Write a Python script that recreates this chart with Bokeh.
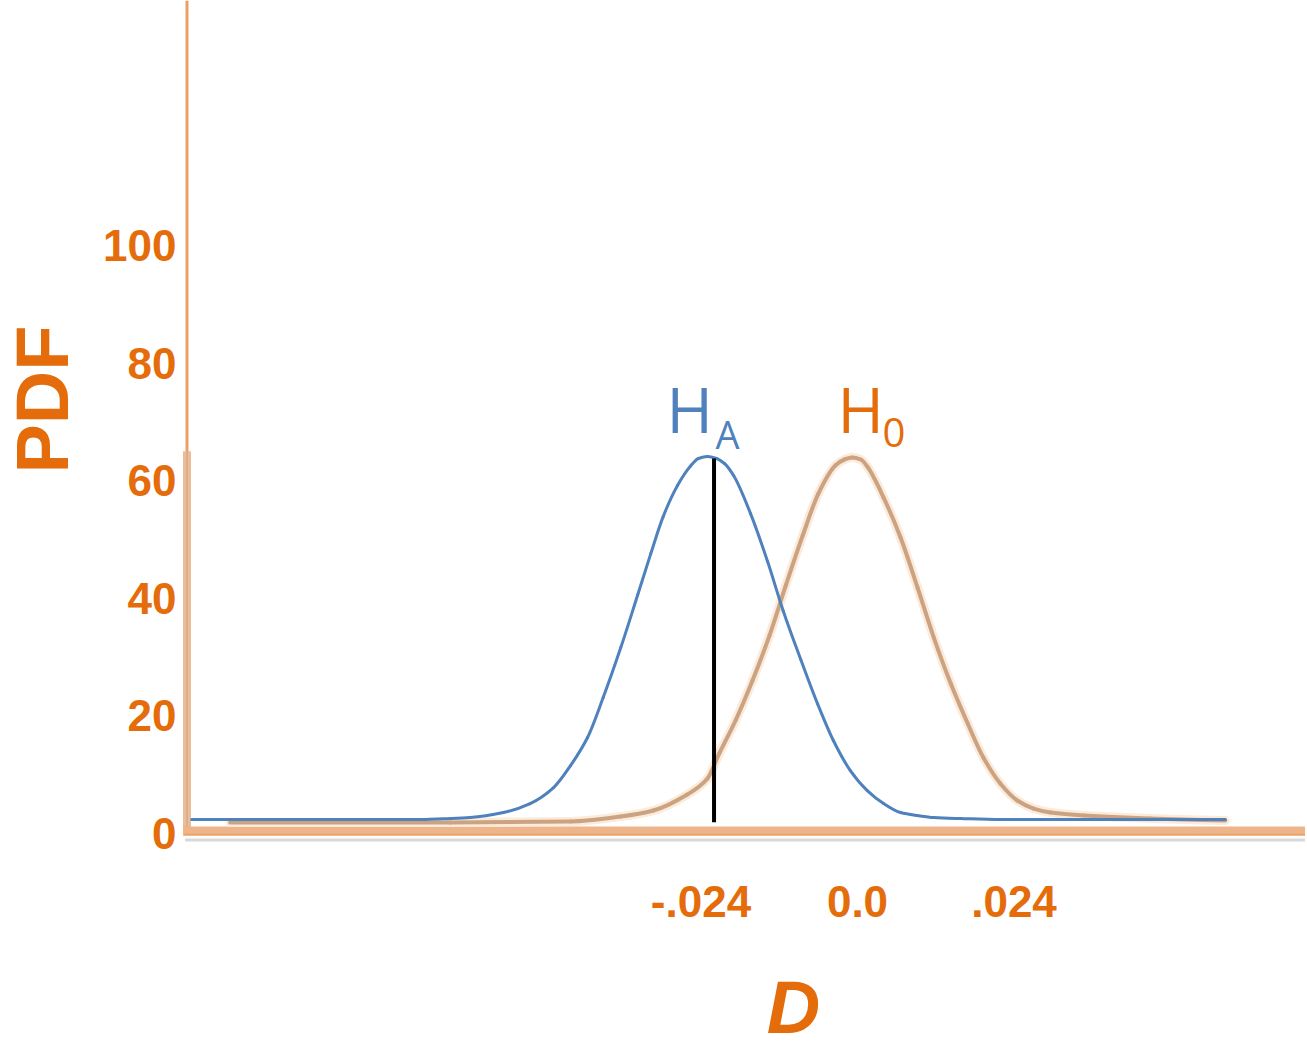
import math
from bokeh.plotting import figure
from bokeh.models import FixedTicker, Label, ColumnDataSource
from bokeh.embed import file_html
from bokeh.resources import INLINE

# ---------------- data ----------------
# H_A curve (blue)
HA_X = [-0.1021, -0.0854, -0.0670, -0.0624, -0.0594, -0.0543, -0.0502, -0.0466,
        -0.0440, -0.0414, -0.0390, -0.0363, -0.0337, -0.0317, -0.0298, -0.0276,
        -0.0256, -0.0244, -0.0230, -0.0216, -0.0204, -0.0190, -0.0164, -0.0138,
        -0.0114, -0.0087, -0.0061, -0.0037, -0.0011, 0.0015, 0.0040, 0.0066,
        0.0092, 0.0117, 0.0158, 0.0219, 0.0564]
HA_Y = [2.38, 2.38, 2.38, 2.55, 2.72, 3.57, 5.10, 7.82, 11.56, 16.33, 23.13,
        31.63, 40.60, 47.60, 53.90, 59.20, 62.50, 63.78, 64.12, 63.78, 62.93,
        60.88, 54.40, 46.30, 37.90, 29.60, 22.00, 15.82, 10.71, 7.31, 5.10,
        3.57, 3.06, 2.72, 2.55, 2.38, 2.38]

# H_0 curve (tan / orange)
H0_X = [-0.0962, -0.0624, -0.0440, -0.0363, -0.0313, -0.0261, -0.0230, -0.0212,
        -0.0187, -0.0161, -0.0135, -0.0110, -0.0084, -0.0060, -0.0034, -0.0020,
        -0.0008, 0.0005, 0.0015, 0.0040, 0.0066, 0.0092, 0.0117, 0.0143, 0.0169,
        0.0193, 0.0219, 0.0245, 0.0270, 0.0296, 0.0347, 0.0449, 0.0564]
H0_Y = [1.87, 1.87, 2.04, 2.89, 3.91, 6.63, 9.35, 13.61, 19.22, 26.02, 33.67,
        42.18, 50.68, 57.82, 62.59, 63.61, 63.95, 63.61, 62.41, 57.14, 50.34,
        41.84, 33.33, 25.51, 18.71, 12.93, 8.50, 5.61, 4.25, 3.57, 3.06, 2.55,
        2.21]

# critical value marker (black vertical line)
CRIT_X = [-0.0220, -0.0220]
CRIT_Y = [1.9, 63.8]

X_TICKS = [-0.024, 0.0, 0.024]
X_TICK_LABELS = ["-.024", "0.0", ".024"]
Y_TICKS = [0, 20, 40, 60, 80, 100]

X_LABEL = "D"
Y_LABEL = "PDF"

# ---------------- styling / layout ----------------
ORANGE = "#E46C0A"
BLUE = "#4F81BD"
X_MIN, X_MAX = -0.13142, 0.06870
Y_MIN, Y_MAX = -36.90, 141.67
YAX_LOC = -0.10412      # where the y tick labels hang
XAX_LOC = -2.04         # where the x tick labels hang


def smooth_source(xs, ys):
    """Monotone cubic (Fritsch-Carlson) rendering of the read points as
    Bezier segments that pass through every point (no points are added)."""
    n = len(xs)
    h = [xs[i + 1] - xs[i] for i in range(n - 1)]
    d = [(ys[i + 1] - ys[i]) / h[i] for i in range(n - 1)]
    m = [0.0] * n
    m[0], m[-1] = d[0], d[-1]
    for i in range(1, n - 1):
        if d[i - 1] * d[i] <= 0:
            m[i] = 0.0
        else:
            w1 = 2 * h[i] + h[i - 1]
            w2 = h[i] + 2 * h[i - 1]
            m[i] = (w1 + w2) / (w1 / d[i - 1] + w2 / d[i])
    seg = dict(x0=[], y0=[], x1=[], y1=[], cx0=[], cy0=[], cx1=[], cy1=[])
    for i in range(n - 1):
        seg["x0"].append(xs[i]); seg["y0"].append(ys[i])
        seg["x1"].append(xs[i + 1]); seg["y1"].append(ys[i + 1])
        seg["cx0"].append(xs[i] + h[i] / 3); seg["cy0"].append(ys[i] + m[i] * h[i] / 3)
        seg["cx1"].append(xs[i + 1] - h[i] / 3); seg["cy1"].append(ys[i + 1] - m[i + 1] * h[i] / 3)
    return ColumnDataSource(seg)


p = figure(width=1305, height=1050, x_range=(X_MIN, X_MAX), y_range=(Y_MIN, Y_MAX),
           output_backend="svg", toolbar_location=None,
           min_border=0, min_border_left=0, min_border_right=0,
           min_border_top=0, min_border_bottom=0)
p.outline_line_color = None
p.xgrid.visible = False
p.ygrid.visible = False
p.background_fill_color = "white"

p.xaxis.ticker = FixedTicker(ticks=X_TICKS)
p.xaxis.major_label_overrides = dict(zip(X_TICKS, X_TICK_LABELS))
p.yaxis.ticker = FixedTicker(ticks=Y_TICKS)
p.xaxis.fixed_location = XAX_LOC
p.yaxis.fixed_location = YAX_LOC
for ax in (p.xaxis[0], p.yaxis[0]):
    ax.axis_line_color = None
    ax.major_tick_line_color = None
    ax.minor_tick_line_color = None
    ax.major_tick_out = 0
    ax.major_tick_in = 0
    ax.minor_tick_out = 0
    ax.major_label_text_font = "Liberation Sans"
    ax.major_label_text_font_style = "bold"
    ax.major_label_text_font_size = "44px"
    ax.major_label_text_color = ORANGE
p.xaxis.major_label_standoff = 40
p.yaxis.major_label_standoff = 2

# decorative axis lines (drawn as glyphs)
YLINE_X = -0.10282
p.line([YLINE_X, YLINE_X], [0, Y_MAX], line_color="#EE9F62", line_width=3)
p.line([YLINE_X, YLINE_X], [0, 65], line_color="#EBBD98", line_width=8)
p.line([YLINE_X, YLINE_X], [0, 65], line_color="#DDAE8A", line_width=2)
p.line([-0.1031, X_MAX], [-1.1, -1.1], line_color="#D8D8D8", line_width=3)
p.line([-0.1034, X_MAX], [0.5, 0.5], line_color="#EEB48A", line_width=8)
p.line([-0.1034, X_MAX], [-0.2, -0.2], line_color="#F0A264", line_width=2)

# curves (smooth Bezier rendering through the read points)
h0_src = smooth_source(H0_X, H0_Y)
ha_src = smooth_source(HA_X, HA_Y)
bz = dict(x0="x0", y0="y0", x1="x1", y1="y1", cx0="cx0", cy0="cy0", cx1="cx1", cy1="cy1")
p.bezier(source=h0_src, line_color="#FCEBDA", line_width=9, line_cap="round", **bz)
p.bezier(source=h0_src, line_color="#CBA383", line_width=4, line_cap="round", **bz)
p.bezier(source=ha_src, line_color=BLUE, line_width=3, line_cap="round", **bz)
p.line(CRIT_X, CRIT_Y, line_color="black", line_width=4)

# texts
p.add_layout(Label(x=-0.12498, y=73.8, text=Y_LABEL, angle=math.pi / 2,
                   text_align="center", text_baseline="alphabetic",
                   text_font="Liberation Sans", text_font_style="bold",
                   text_font_size="74px", text_color=ORANGE))
p.add_layout(Label(x=-0.00981, y=-29.58, text=X_LABEL, text_align="center",
                   text_baseline="alphabetic", text_font="Liberation Sans",
                   text_font_style="bold italic", text_font_size="74px",
                   text_color=ORANGE))
p.add_layout(Label(x=-0.02929, y=72.25, text="H", text_align="left",
                   text_baseline="alphabetic", text_font="Open Sans",
                   text_font_size="63px", text_color=BLUE))
p.add_layout(Label(x=-0.02178, y=68.0, text="A", text_align="left",
                   text_baseline="alphabetic", text_font="Open Sans",
                   text_font_size="38px", text_color=BLUE))
p.add_layout(Label(x=-0.00307, y=72.25, text="H", text_align="left",
                   text_baseline="alphabetic", text_font="Open Sans",
                   text_font_size="63px", text_color=ORANGE))
p.add_layout(Label(x=0.00383, y=68.2, text="0", text_align="left",
                   text_baseline="alphabetic", text_font="Open Sans",
                   text_font_size="40px", text_color=ORANGE))

open("out.html", "w").write(file_html(p, INLINE))
